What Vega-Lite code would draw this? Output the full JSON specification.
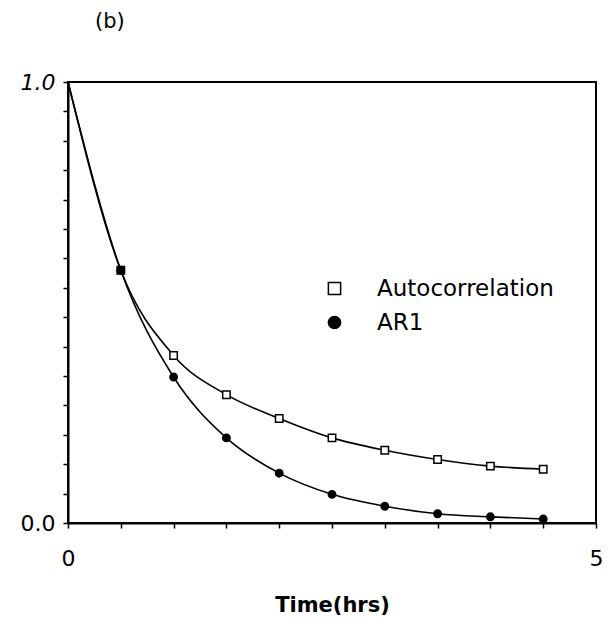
{
  "$schema": "https://vega.github.io/schema/vega-lite/v6.json",
  "autosize": {"type": "none"},
  "padding": {"left": 68, "top": 82, "right": 17, "bottom": 95},
  "width": 528,
  "height": 441,
  "background": "white",
  "title": {
    "text": "(b)",
    "anchor": "start",
    "frame": "group",
    "font": "DejaVu Sans",
    "fontSize": 21,
    "fontWeight": "normal",
    "color": "black",
    "dx": 27,
    "offset": 22,
    "baseline": "alphabetic"
  },
  "config": {
    "view": {"stroke": "black", "strokeWidth": 2},
    "axis": {"grid": false, "domainColor": "black", "domainWidth": 2, "tickColor": "black", "tickWidth": 1.5, "labelColor": "black", "labelFont": "DejaVu Sans", "titleColor": "black"},
    "legend": {"title": null, "orient": "none", "legendX": 255, "legendY": 195, "labelFont": "DejaVu Sans", "labelFontSize": 23, "labelColor": "black", "labelOffset": 31, "labelLimit": 400, "symbolSize": 150, "symbolStrokeWidth": 1.5, "rowPadding": 10, "padding": 0}
  },
  "data": {
    "values": [
      {"t": 0, "r": 1.0, "series": "Autocorrelation"},
      {"t": 0.5, "r": 0.573, "series": "Autocorrelation"},
      {"t": 1.0, "r": 0.380, "series": "Autocorrelation"},
      {"t": 1.5, "r": 0.291, "series": "Autocorrelation"},
      {"t": 2.0, "r": 0.237, "series": "Autocorrelation"},
      {"t": 2.5, "r": 0.193, "series": "Autocorrelation"},
      {"t": 3.0, "r": 0.165, "series": "Autocorrelation"},
      {"t": 3.5, "r": 0.144, "series": "Autocorrelation"},
      {"t": 4.0, "r": 0.129, "series": "Autocorrelation"},
      {"t": 4.5, "r": 0.122, "series": "Autocorrelation"},
      {"t": 0, "r": 1.0, "series": "AR1"},
      {"t": 0.5, "r": 0.573, "series": "AR1"},
      {"t": 1.0, "r": 0.331, "series": "AR1"},
      {"t": 1.5, "r": 0.193, "series": "AR1"},
      {"t": 2.0, "r": 0.113, "series": "AR1"},
      {"t": 2.5, "r": 0.065, "series": "AR1"},
      {"t": 3.0, "r": 0.038, "series": "AR1"},
      {"t": 3.5, "r": 0.021, "series": "AR1"},
      {"t": 4.0, "r": 0.014, "series": "AR1"},
      {"t": 4.5, "r": 0.009, "series": "AR1"}
    ]
  },
  "encoding": {
    "x": {
      "field": "t", "type": "quantitative",
      "scale": {"domain": [0, 5], "nice": false, "zero": false},
      "axis": {
        "title": "Time(hrs)",
        "titleFont": "DejaVu Sans", "titleFontSize": 21, "titleFontWeight": "bold", "titlePadding": 25,
        "values": [0, 0.5, 1, 1.5, 2, 2.5, 3, 3.5, 4, 4.5, 5],
        "labelExpr": "datum.value == 0 ? '0' : (datum.value == 5 ? '5' : '')",
        "labelFontSize": 22, "labelPadding": 20, "tickSize": 5, "labelFlush": false
      }
    },
    "y": {
      "field": "r", "type": "quantitative",
      "scale": {"domain": [0, 1], "nice": false},
      "axis": {
        "title": null,
        "values": [0, 0.0666667, 0.1333333, 0.2, 0.2666667, 0.3333333, 0.4, 0.4666667, 0.5333333, 0.6, 0.6666667, 0.7333333, 0.8, 0.8666667, 0.9333333, 1],
        "labelExpr": "datum.value == 0 ? '0.0' : (datum.value == 1 ? '1.0' : '')",
        "labelFontSize": 22,
        "labelFontStyle": {"condition": {"test": "datum.value == 1", "value": "italic"}, "value": "normal"},
        "labelPadding": 8, "tickSize": 5, "labelFlush": false
      }
    }
  },
  "layer": [
    {
      "mark": {"type": "line", "interpolate": "monotone", "color": "black", "strokeWidth": 1.6},
      "encoding": {"detail": {"field": "series"}}
    },
    {
      "transform": [{"filter": "datum.t > 0"}],
      "mark": {"type": "point", "filled": true, "strokeWidth": 1.5, "size": 55, "opacity": 1},
      "encoding": {
        "shape": {"field": "series", "type": "nominal", "sort": ["Autocorrelation", "AR1"],
          "scale": {"domain": ["Autocorrelation", "AR1"], "range": ["square", "circle"]}},
        "fill": {"field": "series", "type": "nominal", "sort": ["Autocorrelation", "AR1"],
          "scale": {"domain": ["Autocorrelation", "AR1"], "range": ["white", "black"]}},
        "stroke": {"field": "series", "type": "nominal", "sort": ["Autocorrelation", "AR1"],
          "scale": {"domain": ["Autocorrelation", "AR1"], "range": ["black", "black"]}}
      }
    }
  ]
}
